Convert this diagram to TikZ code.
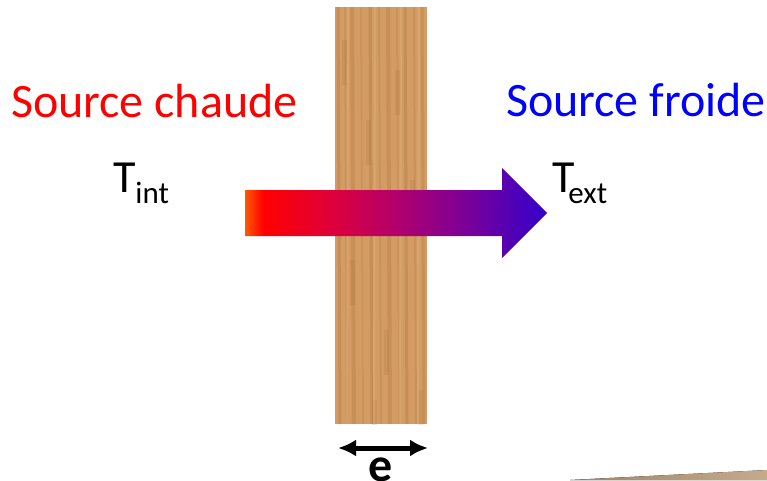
\documentclass[tikz,border=0pt]{standalone}
\usepackage{fontspec}
\setmainfont{Carlito}
\usepackage{xcolor}
\definecolor{hotRed}{HTML}{FF0000}
\definecolor{coldBlue}{HTML}{0000FF}
\definecolor{woodBase}{HTML}{D39C64}
\definecolor{woodDark}{HTML}{A86C34}
\definecolor{woodLight}{HTML}{E2B47E}
\definecolor{floorDark}{HTML}{A08468}
\definecolor{floorLight}{HTML}{C6AA8C}
\definecolor{heatOrange}{HTML}{FF5A00}
\definecolor{heatRed}{HTML}{FF0000}
\definecolor{heatCrimson}{HTML}{DC003E}
\definecolor{heatMagenta}{HTML}{B2006C}
\definecolor{heatPurple}{HTML}{78009A}
\definecolor{heatViolet}{HTML}{3300CC}
\usepackage{tikz}
\usetikzlibrary{positioning, arrows.meta, calc}
\pgfdeclarehorizontalshading{heatflow}{100bp}{
  color(0bp)=(heatOrange); color(25bp)=(heatOrange);
  color(28bp)=(heatRed); color(40bp)=(heatCrimson);
  color(50bp)=(heatMagenta); color(62bp)=(heatPurple);
  color(75bp)=(heatViolet); color(100bp)=(heatViolet)}
\newcommand{\tsub}[1]{\raisebox{-11pt}{\fontsize{31}{31}\selectfont #1}}

\begin{document}
\begin{tikzpicture}[
  x=1pt, y=-1pt,
  every node/.style={inner sep=0pt, outer sep=0pt},
  board/.style={rectangle, fill=woodBase, minimum width=92pt, minimum height=417pt},
  source/.style={font=\fontsize{48}{48}\selectfont, anchor=base west},
  temp/.style={font=\fontsize{46}{46}\selectfont, anchor=base west},
  gap/.style={{Latex[length=18pt,width=17pt]}-{Latex[length=18pt,width=17pt]}, line width=5pt},
]
\useasboundingbox (0,0) rectangle (767,480);

% Floor edge
\fill[left color=floorDark, right color=floorLight] (570,480) -- (767,470) -- (767,480) -- cycle;

% Wood board
\node[board] (board) at (381,215.5) {};
\begin{scope}
  \clip (board.south west) rectangle (board.north east);
  \foreach \xs/\wd/\op in {338/3/0.3, 345/2/0.2, 352/4/0.25, 361/2/0.15, 370/3/0.3,
                           379/2/0.2, 388/4/0.25, 397/2/0.15, 405/3/0.3, 414/2/0.2, 422/3/0.25}
    \draw[woodDark, opacity=\op, line width=\wd pt] (\xs,7) -- (\xs+2,424);
  \foreach \xs/\ys in {342/40, 366/120, 395/70, 410/180, 350/260, 384/330, 418/390, 372/400}
    \fill[woodDark, opacity=0.18] (\xs,\ys) rectangle (\xs+5,\ys+45);
  \foreach \xs in {348, 375, 401, 419}
    \draw[woodLight, opacity=0.4, line width=2pt] (\xs,7) -- (\xs-1,424);
\end{scope}

% Heat flow arrow
\path[shading=heatflow] (245,190) -- (502,190) -- (502,168) -- (547,213)
  -- (502,258) -- (502,236) -- (245,236) -- cycle;

% Labels
\node[source, text=hotRed] (hot) at (11,117) {Source chaude};
\node[source, text=coldBlue] (cold) at (506,116) {Source froide};
\node[temp] (tint) at (113,192) {T\tsub{int}};
\node[temp] (text) at (552,192) {T\kern-6pt\tsub{ext}};

% Thickness
\coordinate (eL) at (338,448);
\coordinate (eR) at (428,448);
\draw[gap] (eL) -- (eR);
\node[font=\bfseries\fontsize{48}{48}\selectfont, anchor=base] (thick) at (381,481) {e};

\end{tikzpicture}
\end{document}
